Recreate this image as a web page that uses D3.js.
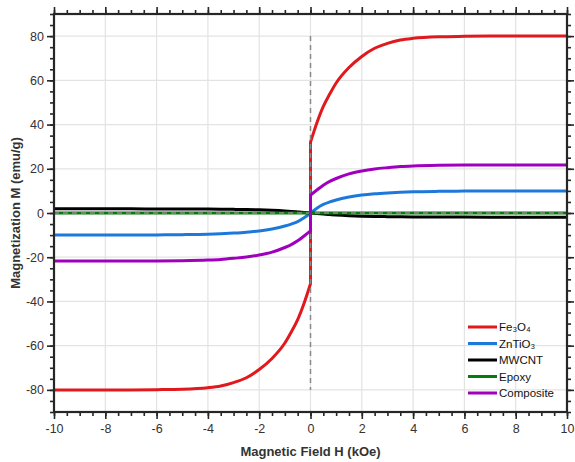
<!DOCTYPE html>
<html><head><meta charset="utf-8">
<script src="https://cdn.jsdelivr.net/npm/d3@7"></script>
<style>body{margin:0;background:#fff;} svg{display:block;font-family:"Liberation Sans",Arial,sans-serif;}</style>
</head><body>
<svg id="c" width="575" height="462"></svg>
<script>
// Field values (kOe): negative branch (ends at 0-) and positive branch (starts at 0+)
const fieldNeg = [-10,-8,-7,-6,-5,-4,-3.5,-3,-2.5,-2,-1.5,-1,-0.75,-0.5,-0.25,0];
const fieldPos = [0,0.25,0.5,0.75,1,1.5,2,2.5,3,3.5,4,5,6,7,8,10];

const fe3o4Neg = [-80,-80,-80,-79.9,-79.7,-79,-78.2,-76.7,-74.5,-70.8,-65.8,-58.8,-53.8,-48.2,-40.8,-32];
const fe3o4Pos = [32,40.8,48.2,53.8,58.8,65.8,70.8,74.5,76.7,78.2,79,79.7,79.9,80,80,80];

const zntio3Neg = [-10,-10,-10,-9.9,-9.8,-9.6,-9.4,-9.1,-8.7,-8.1,-7.2,-5.9,-5.0,-3.9,-2.2,0];
const zntio3Pos = [0,2.2,3.9,5.0,5.9,7.2,8.1,8.7,9.1,9.4,9.6,9.8,9.9,10,10,10];

const mwcntNeg = [1.9,1.9,1.88,1.85,1.82,1.78,1.72,1.64,1.55,1.42,1.22,0.92,0.72,0.5,0.26,0];
const mwcntPos = [0,-0.26,-0.5,-0.72,-0.92,-1.22,-1.42,-1.55,-1.64,-1.72,-1.78,-1.82,-1.85,-1.88,-1.9,-1.9];

const epoxyNeg = [0,0,0,0,0,0,0,0,0,0,0,0,0,0,0,0];
const epoxyPos = [0,0,0,0,0,0,0,0,0,0,0,0,0,0,0,0];

const compNeg = [-21.7,-21.7,-21.7,-21.7,-21.6,-21.3,-21.0,-20.5,-19.9,-19.0,-17.7,-15.6,-14.3,-12.6,-10.4,-8.1];
const compPos = [8.1,10.4,12.6,14.3,15.6,17.7,19.0,19.9,20.5,21.0,21.3,21.6,21.7,21.7,21.7,21.7];

const seriesNames = ["Fe₃O₄","ZnTiO₃","MWCNT","Epoxy","Composite"];
const seriesColors = ["#e0191c","#1e78dc","#000000","#087a0e","#a000bd"];
const seriesNeg = [fe3o4Neg, zntio3Neg, mwcntNeg, epoxyNeg, compNeg];
const seriesPos = [fe3o4Pos, zntio3Pos, mwcntPos, epoxyPos, compPos];

const xTicks = [-10,-8,-6,-4,-2,0,2,4,6,8,10];
const yTicks = [-80,-60,-40,-20,0,20,40,60,80];

const svg = d3.select("#c");
const L = 54, R = 567, T = 14, B = 412;
const x = d3.scaleLinear().domain([-10,10]).range([L,R]);
const y = d3.scaleLinear().domain([-90,90]).range([B,T]);

// grid
const g = svg.append("g");
g.selectAll(".gx").data(xTicks).enter().append("line")
  .attr("x1",d=>x(d)).attr("x2",d=>x(d)).attr("y1",T).attr("y2",B)
  .attr("stroke","#e3e3e3").attr("stroke-width",1.2);
g.selectAll(".gy").data(yTicks).enter().append("line")
  .attr("y1",d=>y(d)).attr("y2",d=>y(d)).attr("x1",L).attr("x2",R)
  .attr("stroke","#e3e3e3").attr("stroke-width",1.2);

const line = d3.line().x(d=>x(d[0])).y(d=>y(d[1])).curve(d3.curveMonotoneX);
function pathFor(i){
  const neg = fieldNeg.map((h,k)=>[h, seriesNeg[i][k]]);
  const pos = fieldPos.map((h,k)=>[h, seriesPos[i][k]]);
  return line(neg) + line(pos).replace(/^M/,"L");
}
const plot = svg.append("g");
function drawSeries(i){
  plot.append("path").attr("d",pathFor(i)).attr("fill","none")
    .attr("stroke",seriesColors[i]).attr("stroke-width",3).attr("stroke-linejoin","round");
}
[0,1,2,3].forEach(drawSeries);

// reference dashed lines
plot.append("line").attr("x1",x(-10)).attr("x2",x(10)).attr("y1",y(0)).attr("y2",y(0))
  .attr("stroke","#8a8a8a").attr("stroke-width",1.5).attr("stroke-dasharray","5,4");
plot.append("line").attr("x1",x(0)).attr("x2",x(0)).attr("y1",y(80)).attr("y2",y(-80))
  .attr("stroke","#8a8a8a").attr("stroke-width",1.5).attr("stroke-dasharray","5,4");

drawSeries(4);

// axes
const axCol = "#262626";
const fmt = d => String(d);
function styleAxis(sel){
  sel.select(".domain").remove();
  sel.selectAll("line").attr("stroke",axCol).attr("stroke-width",1.6);
  sel.selectAll("text").attr("fill","#333").style("font-size","12.5px").style("font-family","'Liberation Sans',Arial,sans-serif");
}
const minorX = d3.range(-10,10.01,0.5);
const minorY = d3.range(-90,90.01,5);

const axB = svg.append("g").attr("transform",`translate(0,${B})`);
axB.call(d3.axisBottom(x).tickValues(minorX).tickSize(4).tickFormat(""));
styleAxis(axB);
const axB2 = svg.append("g").attr("transform",`translate(0,${B})`);
axB2.call(d3.axisBottom(x).tickValues(xTicks).tickSize(7).tickPadding(5).tickFormat(fmt));
styleAxis(axB2);

const axT = svg.append("g").attr("transform",`translate(0,${T})`);
axT.call(d3.axisTop(x).tickValues(minorX).tickSize(4).tickFormat(""));
styleAxis(axT);
const axT2 = svg.append("g").attr("transform",`translate(0,${T})`);
axT2.call(d3.axisTop(x).tickValues(xTicks).tickSize(7).tickFormat(""));
styleAxis(axT2);

const axL = svg.append("g").attr("transform",`translate(${L},0)`);
axL.call(d3.axisLeft(y).tickValues(minorY).tickSize(4).tickFormat(""));
styleAxis(axL);
const axL2 = svg.append("g").attr("transform",`translate(${L},0)`);
axL2.call(d3.axisLeft(y).tickValues(yTicks).tickSize(7).tickPadding(3).tickFormat(fmt));
styleAxis(axL2);

const axR = svg.append("g").attr("transform",`translate(${R},0)`);
axR.call(d3.axisRight(y).tickValues(minorY).tickSize(4).tickFormat(""));
styleAxis(axR);
const axR2 = svg.append("g").attr("transform",`translate(${R},0)`);
axR2.call(d3.axisRight(y).tickValues(yTicks).tickSize(7).tickFormat(""));
styleAxis(axR2);

// frame
svg.append("rect").attr("x",L).attr("y",T).attr("width",R-L).attr("height",B-T)
  .attr("fill","none").attr("stroke",axCol).attr("stroke-width",2.2);

// titles
svg.append("text").attr("x",(L+R)/2).attr("y",456).attr("text-anchor","middle")
  .style("font-size","13px").style("font-weight","bold").attr("fill","#333")
  .text("Magnetic Field H (kOe)");
svg.append("text").attr("transform",`translate(20,${(T+B)/2}) rotate(-90)`).attr("text-anchor","middle")
  .style("font-size","13px").style("font-weight","bold").attr("fill","#333")
  .text("Magnetization M (emu/g)");

// legend
const leg = svg.append("g");
seriesNames.forEach((n,i)=>{
  const ly = 327 + i*16.5;
  leg.append("line").attr("x1",468).attr("x2",497).attr("y1",ly).attr("y2",ly)
    .attr("stroke",seriesColors[i]).attr("stroke-width",3);
  leg.append("text").attr("x",499).attr("y",ly+4).style("font-size","11.5px").attr("fill","#111").text(n);
});
</script>
</body></html>
